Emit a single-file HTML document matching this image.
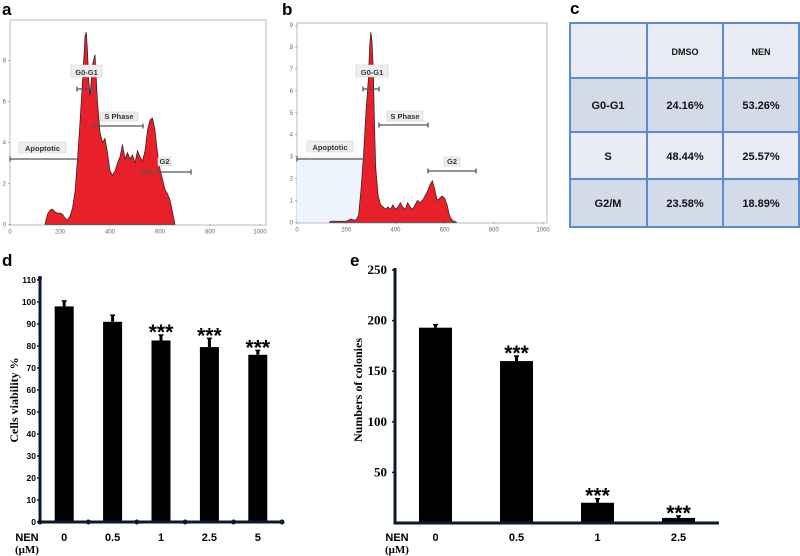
<!DOCTYPE html>
<html><head><meta charset="utf-8"><style>
body{margin:0;background:#fff;}
svg{display:block;font-family:"Liberation Sans",sans-serif;}
.lab{font-weight:bold;font-size:17px;}
.tl{font-size:6px;fill:#666;}
.mk{stroke:#555;stroke-width:1.3;}
.box{fill:#eee;stroke:#ccc;stroke-width:0.6;}
.bt{font-size:7.5px;fill:#333;font-weight:bold;}
.ct{font-size:11px;font-weight:bold;fill:#111;text-anchor:middle;}
.dy{font-size:8.5px;font-weight:bold;text-anchor:end;}
.ey{font-family:"Liberation Serif",serif;font-size:13px;font-weight:bold;text-anchor:end;}
.xt{font-size:11px;font-weight:bold;text-anchor:middle;}
.ax{fill:none;stroke:#0c1a2b;stroke-width:3;}
.tt{font-family:"Liberation Serif",serif;font-size:12px;font-weight:bold;}
</style></head><body>
<svg id="fig" width="800" height="556" viewBox="0 0 800 556">
<g id="pa">
  <text x="2" y="15" class="lab">a</text>
  <rect x="10" y="20" width="256" height="205" fill="#fff" stroke="#aaa" stroke-width="0.8"/>
</g>
<g id="pb">
  <text x="282" y="15" class="lab">b</text>
  <rect x="297" y="23" width="250" height="200" fill="#fff" stroke="#aaa" stroke-width="0.8"/>
</g>
<g id="pc">
  <text x="570" y="14" class="lab">c</text>
  <rect x="570" y="23" width="229" height="55" fill="#e8ebf3"/>
  <rect x="570" y="78" width="229" height="54" fill="#d4dae8"/>
  <rect x="570" y="132" width="229" height="47" fill="#e9ecf4"/>
  <rect x="570" y="179" width="229" height="48" fill="#d4dae8"/>
  <g stroke="#5b8bd0" stroke-width="2" fill="none">
    <rect x="570" y="23" width="229" height="204"/>
    <line x1="647" y1="23" x2="647" y2="227"/><line x1="723" y1="23" x2="723" y2="227"/>
    <line x1="570" y1="78" x2="799" y2="78"/><line x1="570" y1="132" x2="799" y2="132"/><line x1="570" y1="179" x2="799" y2="179"/>
  </g>
  <text x="685" y="55" class="ct" style="font-size:9px">DMSO</text>
  <text x="761" y="55" class="ct" style="font-size:9px">NEN</text>
  <text x="608" y="109" class="ct">G0-G1</text>
  <text x="685" y="109" class="ct">24.16%</text>
  <text x="761" y="109" class="ct">53.26%</text>
  <text x="608" y="160" class="ct">S</text>
  <text x="685" y="160" class="ct">48.44%</text>
  <text x="761" y="160" class="ct">25.57%</text>
  <text x="608" y="207" class="ct">G2/M</text>
  <text x="685" y="207" class="ct">23.58%</text>
  <text x="761" y="207" class="ct">18.89%</text>
</g>
<g id="pd">
  <text x="2" y="266" class="lab">d</text>
  <text transform="translate(18,400) rotate(-90)" text-anchor="middle" class="tt">Cells viability %</text>
  <text x="27" y="541" class="xt">NEN</text>
  <text x="27" y="553" class="xt tt" style="font-size:11px">(μM)</text>
</g>
<g id="pe">
  <text x="350" y="266" class="lab">e</text>
  <text transform="translate(362,390) rotate(-90)" text-anchor="middle" class="tt">Numbers of colonies</text>
  <text x="397" y="541" class="xt">NEN</text>
  <text x="397" y="553" class="xt tt" style="font-size:11px">(μM)</text>
</g>
</svg>
<script>
const histAX=[140,150,160,170,180,190,200,210,220,230,240,250,260,270,280,290,300,305,310,315,320,330,340,350,360,370,380,390,400,410,420,430,440,450,460,470,480,490,500,510,520,530,540,550,560,570,580,590,600,610,620,630,640,650,660];
const histAY=[0,0.5,0.7,0.75,0.6,0.55,0.55,0.5,0.3,0.2,0.4,0.8,1.6,3.2,5,7,9.2,9.4,8.5,7,6.3,7.8,8.3,6,4.5,4,4.2,3.5,2.6,2.4,2.6,3,3.3,3.9,3.2,3.5,3.2,3.4,3,3.6,3.3,3.1,3.6,4.6,5.1,5.2,4.6,3.5,2.7,2.2,1.7,1.5,1.2,0.6,0];
const histBX=[130,140,200,210,220,230,240,250,260,270,280,290,295,300,305,310,315,320,330,340,350,360,370,380,390,400,410,420,430,440,450,460,470,480,490,500,510,520,530,540,550,560,570,580,590,600,610,620,630,650];
const histBY=[0,0.05,0.05,0.1,0.15,0.1,0.1,0.3,1.5,3,5,6.5,8,8.7,8.3,7,4.5,2.5,1.2,0.8,0.7,0.6,0.7,0.6,0.8,0.6,0.7,0.9,0.7,0.6,0.9,0.7,0.6,0.8,1,0.9,1,1.2,1.4,1.7,1.9,1.5,1,1.1,1.2,1.1,0.8,0.3,0.1,0];
const histXTicks=[0,200,400,600,800,1000];
const histATicks=[0,2,4,6,8];
const histBTicks=[0,1,2,3,4,5,6,7,8,9];
const dCats=["0","0.5","1","2.5","5"];
const dVals=[98,91,82.5,79.5,76];
const dErr=[2.5,3,2.5,4,2];
const dSig=[false,false,true,true,true];
const dTicks=[0,10,20,30,40,50,60,70,80,90,100,110];
const eCats=["0","0.5","1","2.5"];
const eVals=[193,160,20,5];
const eErr=[3,5,4,2];
const eSig=[false,true,true,true];
const eTicks=[50,100,150,200,250];

const NS="http://www.w3.org/2000/svg";
function mk(p,tag,at){const e=document.createElementNS(NS,tag);for(const k in at)e.setAttribute(k,at[k]);p.appendChild(e);return e;}
function txt(p,x,y,s,cls){const t=mk(p,'text',{x:x,y:y,class:cls});t.textContent=s;return t;}

function hist(gid,X,Y,x0,x1,yb,unit,yticks,shade,marks,name){
  const g=document.getElementById(gid);
  const sx=v=>x0+(x1-x0)*v/1000, sy=v=>yb-unit*v;
  if(shade){const r=mk(g,'rect',{x:sx(0),y:sy(3),width:sx(270)-sx(0),height:yb-sy(3),fill:'#eef4fb'});
    
    }
  let d='M'+sx(X[0])+','+yb;
  X.forEach((v,i)=>{d+=' L'+sx(v).toFixed(1)+','+sy(Y[i]).toFixed(1);});
  d+=' L'+sx(X[X.length-1])+','+yb+' Z';
  const p=mk(g,'path',{d:d,fill:'#e8202a',stroke:'#222',"stroke-width":0.7});
  
  
  histXTicks.forEach(v=>{mk(g,'line',{x1:sx(v),x2:sx(v),y1:yb,y2:yb+2,stroke:'#888',"stroke-width":0.6});
    const t=txt(g,sx(v),yb+9,String(v),'tl');t.setAttribute('text-anchor','middle');
    
    });
  yticks.forEach(v=>{mk(g,'line',{x1:x0-2,x2:x0,y1:sy(v),y2:sy(v),stroke:'#888',"stroke-width":0.6});
    const t=txt(g,x0-4,sy(v)+2,String(v),'tl');t.setAttribute('text-anchor','end');
    
    });
  marks.forEach(m=>{
    mk(g,'line',{x1:m.b[0],x2:m.b[1],y1:m.b[2],y2:m.b[2],class:'mk'});
    mk(g,'line',{x1:m.b[0],x2:m.b[0],y1:m.b[2]-2.5,y2:m.b[2]+2.5,class:'mk'});
    mk(g,'line',{x1:m.b[1],x2:m.b[1],y1:m.b[2]-2.5,y2:m.b[2]+2.5,class:'mk'});
    const bx=mk(g,'rect',{x:m.l[0],y:m.l[1],width:m.l[2]-m.l[0],height:m.l[3]-m.l[1],class:'box',rx:1});
    
    
    const t=txt(g,(m.l[0]+m.l[2])/2,m.l[3]-2,m.t,'bt');t.setAttribute('text-anchor','middle');
    
    
  });
}
hist('pa',histAX,histAY,10,260,224.3,20.45,histATicks,false,[
 {t:'Apoptotic',b:[10,78,159],l:[19,142,66,153]},
 {t:'G0-G1',b:[77,93,89],l:[71,65,102,77]},
 {t:'S Phase',b:[93,143,126],l:[100,112,138,121]},
 {t:'G2',b:[142,191,172],l:[158,157,171,166]}],'histogram-dmso');
hist('pb',histBX,histBY,297,543,222.3,21.9,histBTicks,true,[
 {t:'Apoptotic',b:[297,364,159],l:[307,141,353,152]},
 {t:'G0-G1',b:[363,379,89],l:[356,65,388,77]},
 {t:'S Phase',b:[379,428,125],l:[387,111,423,121]},
 {t:'G2',b:[428,476,171],l:[444,157,460,166]}],'histogram-nen');

function bars(gid,cats,vals,err,sig,ticks,o){
  const g=document.getElementById(gid);
  const sy=v=>o.yb-(o.yb-o.ytop)*v/o.ymax;
  const step=(o.xr-o.x0)/cats.length;
  ticks.forEach(v=>{
    mk(g,'line',{x1:o.x0-3,x2:o.x0,y1:sy(v),y2:sy(v),stroke:'#0c1a2b',"stroke-width":1.5});
    const t=txt(g,o.x0-o.tpad,sy(v)+o.tdy,String(v),o.tcls);
    
    
  });
  cats.forEach((c,i)=>{
    const cx=o.x0+step*(i+0.5);
    const r=mk(g,'rect',{x:cx-o.bw/2,y:sy(vals[i]),width:o.bw,height:o.yb-sy(vals[i]),fill:'#000'});
    
    
    const e=mk(g,'line',{x1:cx,x2:cx,y1:sy(vals[i]),y2:sy(vals[i]+err[i]),stroke:'#000',"stroke-width":3});
    
    
    mk(g,'line',{x1:cx-2.5,x2:cx+2.5,y1:sy(vals[i]+err[i]),y2:sy(vals[i]+err[i]),stroke:'#000',"stroke-width":1.5});
    if(sig[i]){const s=txt(g,cx,sy(vals[i]+err[i])+4,'***','xt');s.setAttribute('style','font-size:21px');
      
      }
    const t=txt(g,cx,541,c,'xt');
    
    
    if(o.dots){mk(g,'circle',{cx:o.x0+step*(i+1),cy:o.yb,r:2.5,fill:'#0c1a2b'});}
  });
  const ax=mk(g,'path',{d:'M'+o.x0+','+(o.ytop-2)+' L'+o.x0+','+o.yb+' L'+o.xr+','+o.yb,class:'ax'});
  
  
  if(o.dots){mk(g,'circle',{cx:o.x0,cy:o.yb,r:2.5,fill:'#0c1a2b'});mk(g,'circle',{cx:o.x0,cy:o.ytop-2,r:2,fill:'#0c1a2b'});}
}
bars('pd',dCats,dVals,dErr,dSig,dTicks,{x0:40,xr:282,yb:522,ytop:280,ymax:110,bw:19,tcls:'dy',dots:true,tpad:4,tdy:3});
bars('pe',eCats,eVals,eErr,eSig,eTicks,{x0:395,xr:719,yb:523,ytop:270,ymax:250,bw:33,tcls:'ey',dots:false,tpad:8,tdy:4});
</script>
</body></html>
